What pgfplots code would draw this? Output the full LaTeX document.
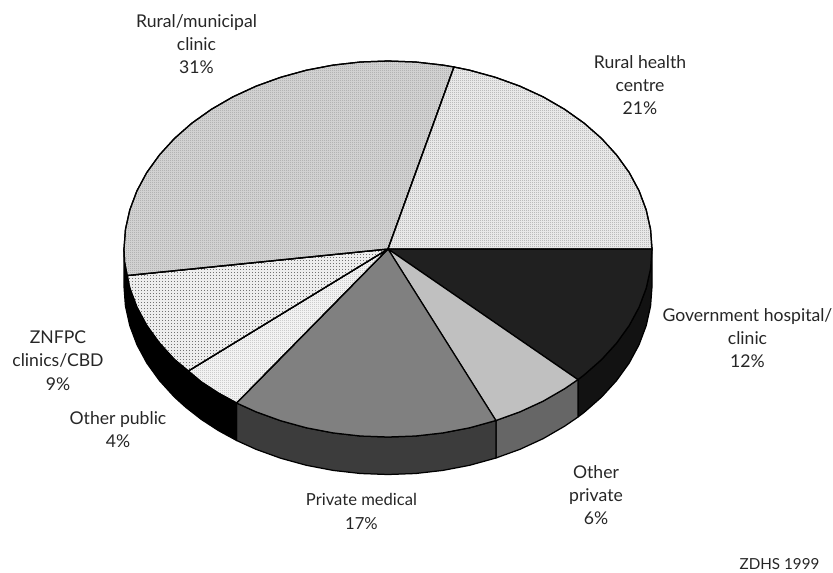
\documentclass[border=0pt]{standalone}
\usepackage{pgfplots}
\pgfplotsset{compat=1.18}
\usepackage{fontspec}
\setmainfont{Lato}
\usetikzlibrary{patterns}
\tikzset{lab/.style={align=center, text=black!85, font=\fontsize{17.6}{23.3}\selectfont, inner sep=0pt}}
\pgfdeclarepatternformonly{dotsA}{\pgfqpoint{0pt}{0pt}}{\pgfqpoint{2pt}{2pt}}{\pgfqpoint{2pt}{2pt}}{\pgfpathrectangle{\pgfqpoint{0pt}{0pt}}{\pgfqpoint{1pt}{1pt}}\pgfusepath{fill}}
\pgfdeclarepatternformonly{dotsB}{\pgfqpoint{0pt}{0pt}}{\pgfqpoint{3pt}{3pt}}{\pgfqpoint{3pt}{3pt}}{\pgfpathrectangle{\pgfqpoint{0pt}{0pt}}{\pgfqpoint{1.2pt}{1.2pt}}\pgfusepath{fill}}
\pgfdeclarepatternformonly{dotsC}{\pgfqpoint{0pt}{0pt}}{\pgfqpoint{2pt}{2pt}}{\pgfqpoint{2pt}{2pt}}{\pgfpathrectangle{\pgfqpoint{0pt}{0pt}}{\pgfqpoint{.8pt}{.8pt}}\pgfusepath{fill}}
\definecolor{dotA}{gray}{0.55}
\definecolor{dotB}{gray}{0.45}
\definecolor{dotC}{gray}{0.6}
\definecolor{dotD}{gray}{0.5}
\definecolor{baseA}{gray}{0.82}
\definecolor{baseB}{gray}{0.93}
\definecolor{baseC}{gray}{0.95}
\definecolor{baseD}{gray}{0.91}
\begin{document}
\begin{tikzpicture}
\begin{axis}[
  scale only axis, width=833pt, height=573pt,
  xmin=0, xmax=833, ymin=0, ymax=573, y dir=reverse,
  axis lines=none, clip=false,
  every axis plot/.append style={line width=1.25pt, line join=round},
]
% invisible frame to hold the page size
\addplot[draw=none] coordinates {(0,0) (833,573)};
% side walls
\addplot[fill=black!93, draw=black] coordinates {(652,249) (650.55,268.65) (646.2,288.1) (639.1,307.1) (629.2,325.5) (616.6,343) (601.6,359.5) (584.2,374.8) (577.9,379.6) (577.9,417.1) (584.2,412.3) (601.6,397) (616.6,380.5) (629.2,363) (639.1,344.6) (646.2,325.6) (650.55,306.15) (652,286.5) (652,249)};
\addplot[fill={rgb,255:red,102;green,102;blue,102}, draw=black] coordinates {(577.9,379.6) (564.6,388.7) (543.2,401.1) (520,411.8) (495.9,420.5) (495.9,458) (520,449.3) (543.2,438.6) (564.6,426.2) (577.9,417.1) (577.9,379.6)};
\addplot[fill={rgb,255:red,60;green,60;blue,60}, draw=black] coordinates {(495.9,420.5) (469.6,427.8) (442.9,432.9) (415.6,436) (388,437) (360.4,436) (333.1,432.9) (306.4,427.8) (280.6,420.7) (256,411.8) (236.6,403) (236.6,440.5) (256,449.3) (280.6,458.2) (306.4,465.3) (333.1,470.4) (360.4,473.5) (388,474.5) (415.6,473.5) (442.9,470.4) (469.6,465.3) (495.9,458) (495.9,420.5)};
\addplot[fill=black, draw=black] coordinates {(236.6,403) (218.3,393) (201.3,381.9) (185.8,369.8) (174.4,359.5) (159.4,343) (146.8,325.5) (136.9,307.1) (129.8,288.1) (125.45,268.65) (124,249) (124,286.5) (125.45,306.15) (129.8,325.6) (136.9,344.6) (146.8,363) (159.4,380.5) (174.4,397) (185.8,407.3) (201.3,419.4) (218.3,430.5) (236.6,440.5) (236.6,403)};
% top slices
\addplot[fill={rgb,255:red,32;green,32;blue,32}, draw=black] coordinates {(388,249) (652,249) (650.55,268.65) (646.2,288.1) (639.1,307.1) (629.2,325.5) (616.6,343) (601.6,359.5) (584.2,374.8) (577.9,379.6) (388,249)};
\addplot[fill={rgb,255:red,192;green,192;blue,192}, draw=black] coordinates {(388,249) (577.9,379.6) (564.6,388.7) (543.2,401.1) (520,411.8) (495.9,420.5) (388,249)};
\addplot[fill={rgb,255:red,128;green,128;blue,128}, draw=black] coordinates {(388,249) (495.9,420.5) (469.6,427.8) (442.9,432.9) (415.6,436) (388,437) (360.4,436) (333.1,432.9) (306.4,427.8) (280.6,420.7) (256,411.8) (236.6,403) (388,249)};
\addplot[preaction={fill=baseC}, pattern=dotsC, pattern color=dotC, draw=black] coordinates {(388,249) (236.6,403) (218.3,393) (201.3,381.9) (188.3,371) (388,249)};
\addplot[preaction={fill=baseB}, pattern=dotsB, pattern color=dotB, draw=black] coordinates {(388,249) (188.3,371) (174.4,359.5) (159.4,343) (146.8,325.5) (136.9,307.1) (129.8,288.1) (127.2,275.5) (388,249)};
\addplot[preaction={fill=baseA}, pattern=dotsA, pattern color=dotA, draw=black] coordinates {(388,249) (127.2,275.5) (124.6,262.1) (124,249) (125.45,229.35) (129.8,209.9) (136.9,190.9) (146.8,172.5) (159.4,155) (174.4,138.5) (191.8,123.2) (211.4,109.3) (232.8,96.9) (256,86.2) (280.6,77.3) (306.4,70.2) (333.1,65.1) (360.4,62) (388,61) (415.6,62) (442.9,65.1) (454,67) (388,249)};
\addplot[preaction={fill=baseD}, pattern=dotsC, pattern color=dotD, draw=black] coordinates {(388,249) (454,67) (469.6,70.2) (495.4,77.3) (520,86.2) (543.2,96.9) (564.6,109.3) (584.2,123.2) (601.6,138.5) (616.6,155) (629.2,172.5) (639.1,190.9) (646.2,209.9) (650.55,229.35) (652,249) (388,249)};
% labels
\node[lab] at (axis cs:196.5,44) {Rural/municipal\\clinic\\31\%};
\node[lab] at (axis cs:640,85) {Rural health\\centre\\21\%};
\node[lab] at (axis cs:747.5,338) {Government hospital/\\clinic\\12\%};
\node[lab] at (axis cs:596,495) {Other\\private\\6\%};
\node[lab, font=\fontsize{16.6}{23.3}\selectfont] at (axis cs:361.5,511.5) {Private medical\\17\%};
\node[lab] at (axis cs:118,429.5) {Other public\\4\%};
\node[lab] at (axis cs:58,360.5) {ZNFPC\\clinics/CBD\\9\%};
\node[lab, font=\fontsize{15.2}{17}\selectfont] at (axis cs:779.5,564) {ZDHS 1999};
\end{axis}
\end{tikzpicture}
\end{document}
